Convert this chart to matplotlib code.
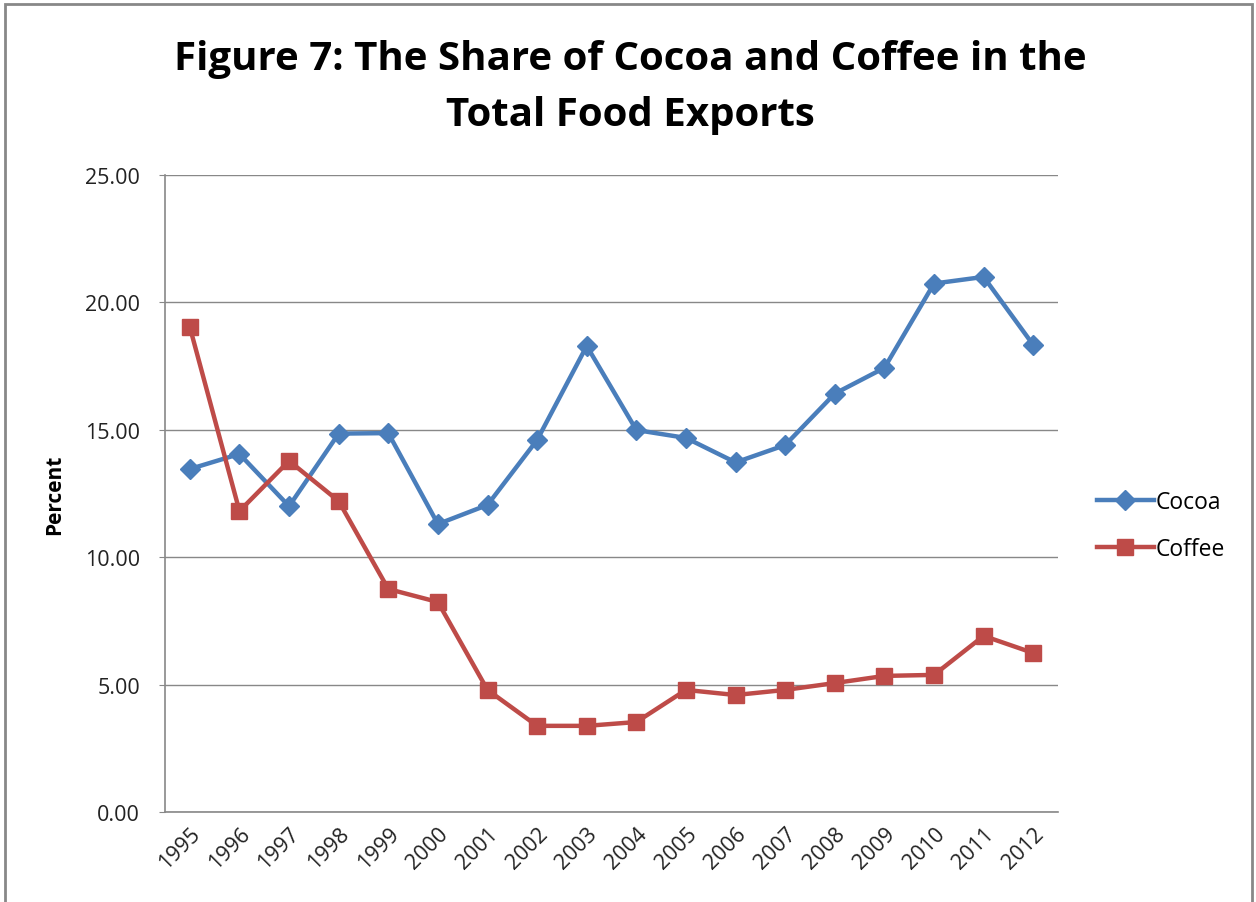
import matplotlib
matplotlib.use("Agg")
import matplotlib.pyplot as plt
from matplotlib.patches import Rectangle

# Data
years = [str(y) for y in range(1995, 2013)]
cocoa = [13.46, 14.05, 12.00, 14.85, 14.87, 11.30, 12.05, 14.60, 18.29, 14.99,
         14.68, 13.72, 14.40, 16.42, 17.43, 20.74, 21.00, 18.33]
coffee = [19.03, 11.81, 13.78, 12.20, 8.75, 8.24, 4.79, 3.38, 3.38, 3.53,
          4.79, 4.59, 4.79, 5.06, 5.34, 5.38, 6.91, 6.24]
yticks = [0, 5, 10, 15, 20, 25]

plt.rcParams['font.family'] = ['Open Sans', 'DejaVu Sans']

fig = plt.figure(figsize=(12.56, 9.03), dpi=100)
ax = fig.add_axes([0.1314, 0.0997, 0.711, 0.7054])

x = list(range(len(years)))
ax.plot(x, cocoa, color='#4A7EBB', lw=3.2, marker='D', ms=10, label='Cocoa')
ax.plot(x, coffee, color='#BE4B48', lw=3.2, marker='s', ms=12, label='Coffee')

ax.set_xlim(-0.5, len(years) - 0.5)
ax.set_ylim(0, 25)
ax.set_yticks(yticks)
ax.set_yticklabels(['%.2f' % v for v in yticks], fontsize=15.5, color='#222222')
ax.set_xticks(x)
ax.set_xticklabels(years, rotation=45, ha='right', rotation_mode='anchor',
                   fontsize=15.5, color='#222222')
ax.tick_params(axis='x', length=0, pad=8)
ax.tick_params(axis='y', length=4, color='#888888', pad=14)
ax.grid(axis='y', color='#888888', lw=1)
ax.set_axisbelow(True)
for side in ['top', 'right']:
    ax.spines[side].set_visible(False)
for side in ['left', 'bottom']:
    ax.spines[side].set_color('#888888')
    ax.spines[side].set_linewidth(1.2)

ax.set_ylabel('Percent', fontsize=15, fontweight='bold', labelpad=14)

ax.legend(loc='center left', bbox_to_anchor=(1.02, 0.45), frameon=False,
          fontsize=16.5, handlelength=2.5, handletextpad=0.1, labelspacing=1.0)

fig.text(0.502, 0.903, 'Figure 7: The Share of Cocoa and Coffee in the\nTotal Food Exports',
         ha='center', va='center', fontsize=29, fontweight='bold', linespacing=1.55)

# outer chart frame
fig.patches.append(Rectangle((5 / 1256, -0.05), 1247 / 1256, 1.05 - 5 / 903,
                             transform=fig.transFigure, fill=False,
                             edgecolor='#888888', lw=2))

fig.savefig('out.png', dpi=100)
